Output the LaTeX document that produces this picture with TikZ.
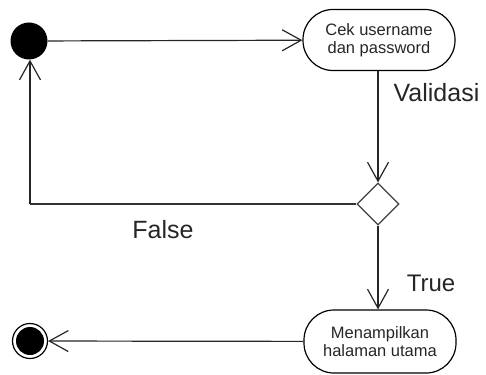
\documentclass[tikz,border=0pt]{standalone}
\usepackage{fontspec}
\setmainfont{Liberation Sans}
\usetikzlibrary{arrows.meta,shapes.geometric}
\begin{document}
\begin{tikzpicture}[x=1pt,y=-1pt,
  activity/.style={draw=black,line width=1.2pt,rectangle,rounded corners=30pt,minimum width=152pt,minimum height=61pt,align=center,inner sep=0pt,font=\fontsize{16.5}{18.5}\selectfont,text=black!85},
  decision/.style={draw=black!75,line width=1.2pt,diamond,aspect=1,minimum width=42pt,minimum height=42pt,inner sep=0pt},
  flow/.style={line width=1.2pt,draw=black!85,-{Straight Barb[length=19pt,width=21pt,line width=1.2pt]}},
  line/.style={line width=1.2pt,draw=black!80},
  lbl/.style={font=\fontsize{25}{28}\selectfont,text=black!85,inner sep=0pt}]
\useasboundingbox (0,0) rectangle (486,374);
\node[circle,fill=black,minimum size=37pt,inner sep=0pt] (start) at (29,41) {};
\node[activity] (cek) at (379,40) {Cek username\\dan password};
\node[decision] (dec) at (378,204) {};
\node[activity,minimum height=63pt] (tampil) at (380,341.5) {Menampilkan\\halaman utama};
\node[circle,draw=black,line width=1.2pt,minimum size=35pt,inner sep=0pt] (end) at (30,341) {};
\node[circle,fill=black,minimum size=28pt,inner sep=0pt] at (end.center) {};
\coordinate (corner) at (30,204);
\draw[flow] (start) -- (cek);
\draw[flow] (cek.south -| dec.north) -- (dec.north);
\draw[line] (dec.west) -- (corner);
\draw[flow] (corner) -- (start.south -| corner);
\draw[flow] (dec.south) -- (tampil.north -| dec.south);
\draw[flow] (tampil) -- (end);
\node[lbl] (val) at (436.5,93) {Validasi};
\node[lbl] (fls) at (163,230) {False};
\node[lbl,font=\fontsize{24}{27}\selectfont] (tru) at (431,283.5) {True};
\end{tikzpicture}
\end{document}
